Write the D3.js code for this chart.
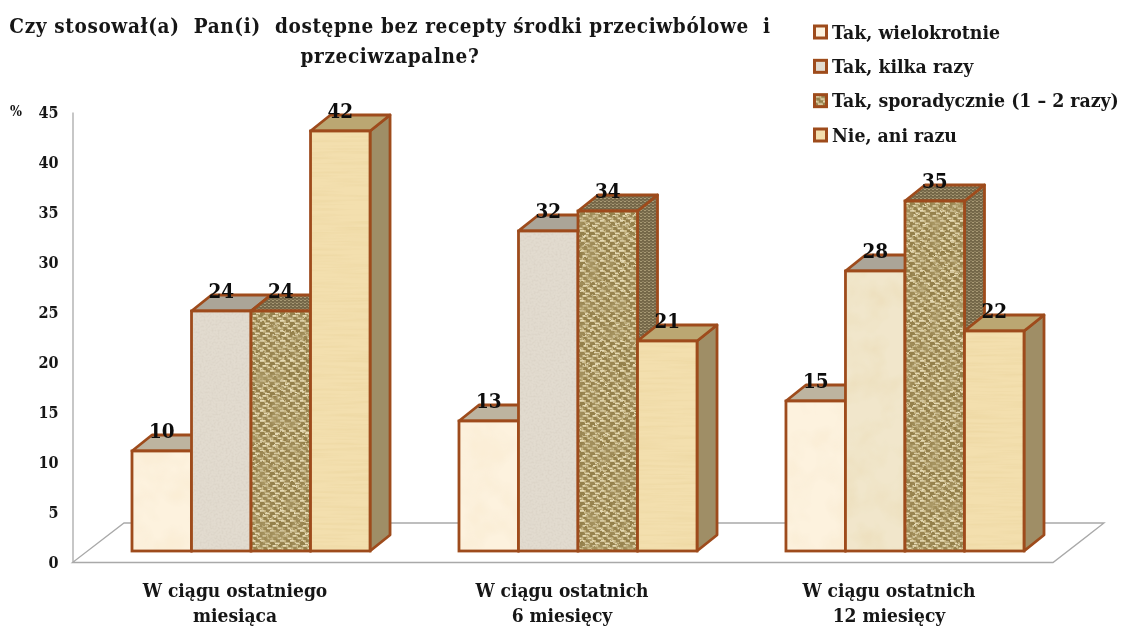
<!DOCTYPE html>
<html><head><meta charset="utf-8">
<script src="https://cdnjs.cloudflare.com/ajax/libs/d3/7.8.5/d3.min.js"></script>
<style>
html,body{margin:0;padding:0;background:#fff;overflow:hidden}
text{font-family:"DejaVu Serif Condensed","DejaVu Serif",serif;font-weight:bold;font-stretch:condensed;fill:#141414}
</style></head><body><svg id="c" width="1126" height="627"></svg>
<script>
const titleLines = ["Czy stosował(a)  Pan(i)  dostępne bez recepty środki przeciwbólowe  i","przeciwzapalne?"];
const categories = [["W ciągu ostatniego","miesiąca"],["W ciągu ostatnich","6 miesięcy"],["W ciągu ostatnich","12 miesięcy"]];
const seriesNames = ["Tak, wielokrotnie","Tak, kilka razy","Tak, sporadycznie (1 – 2 razy)","Nie, ani razu"];
const valuesWielokrotnie = [10,13,15];
const valuesKilkaRazy = [24,32,28];
const valuesSporadycznie = [24,34,35];
const valuesNie = [42,21,22];
const yTicks = [0,5,10,15,20,25,30,35,40,45];
const seriesValues = [valuesWielokrotnie,valuesKilkaRazy,valuesSporadycznie,valuesNie];

const svg = d3.select("#c");
const defs = svg.append("defs");
const stroke = "#9e4c1c";
defs.append("filter").attr("id","soft").attr("x","-2%").attr("y","-2%").attr("width","104%").attr("height","104%")
  .append("feGaussianBlur").attr("stdDeviation",0.5);

function grain(id,freq,seed,color,amount){
  const f=defs.append("filter").attr("id",id).attr("x","0").attr("y","0").attr("width","100%").attr("height","100%");
  f.append("feTurbulence").attr("type","fractalNoise").attr("baseFrequency",freq).attr("numOctaves",3).attr("seed",seed).attr("result","n");
  f.append("feColorMatrix").attr("in","n").attr("type","matrix")
   .attr("values",`0 0 0 0 ${color[0]} 0 0 0 0 ${color[1]} 0 0 0 0 ${color[2]} ${amount} 0 0 0 ${-amount*0.42}`).attr("result","c");
  f.append("feComposite").attr("in","c").attr("in2","SourceGraphic").attr("operator","in").attr("result","t");
  const m=f.append("feMerge");
  m.append("feMergeNode").attr("in","SourceGraphic");
  m.append("feMergeNode").attr("in","t");
}
grain("gCream","0.03",3,[.93,.80,.58],1.1);
grain("gStone","0.5",5,[.66,.60,.52],1.3);
grain("gParch","0.035",8,[.84,.72,.48],1.6);
grain("gStraw","0.015 0.35",2,[.85,.68,.36],1.7);

const fb=defs.append("filter").attr("id","gBurlap").attr("x","0").attr("y","0").attr("width","100%").attr("height","100%");
fb.append("feTurbulence").attr("type","fractalNoise").attr("baseFrequency","0.18").attr("numOctaves",2).attr("seed",11).attr("result","n");
fb.append("feDisplacementMap").attr("in","SourceGraphic").attr("in2","n").attr("scale",2.5).attr("xChannelSelector","R").attr("yChannelSelector","G").attr("result","d");
fb.append("feTurbulence").attr("type","fractalNoise").attr("baseFrequency","0.07").attr("numOctaves",3).attr("seed",4).attr("result","n2");
fb.append("feColorMatrix").attr("in","n2").attr("type","matrix").attr("values","0 0 0 0 .42 0 0 0 0 .33 0 0 0 0 .14 1.8 0 0 0 -.78").attr("result","c");
const fm=fb.append("feMerge"); fm.append("feMergeNode").attr("in","d"); fm.append("feMergeNode").attr("in","c");

function weave(id,dark,light,mid){
  const p=defs.append("pattern").attr("id",id).attr("patternUnits","userSpaceOnUse").attr("width",10).attr("height",10);
  p.append("rect").attr("width",10).attr("height",10).attr("fill",dark);
  [[0,0,4],[5,2.5,4],[2.5,5,4],[7.5,7.5,2.5],[0,7.5,1.5]].forEach(r=>p.append("rect").attr("x",r[0]).attr("y",r[1]).attr("width",r[2]).attr("height",1.8).attr("fill",light));
  [[4,0,2.5],[9,2.5,2.5],[6.5,5,2.5],[1.5,7.5,2.5]].forEach(r=>p.append("rect").attr("x",r[0]).attr("y",r[1]).attr("width",1.8).attr("height",r[2]).attr("fill",mid));
}
weave("burlap","#94804b","#e6dab4","#d2c18f");
const pd=defs.append("pattern").attr("id","burlapDark").attr("patternUnits","userSpaceOnUse").attr("width",4).attr("height",3);
pd.append("rect").attr("width",4).attr("height",3).attr("fill","#75684a");
pd.append("rect").attr("width",2).attr("height",1).attr("fill","#a89a74");
pd.append("rect").attr("x",2).attr("y",2).attr("width",2).attr("height",1).attr("fill","#8f8160");

const faces = [
  {front:"#fdf2de",grain:"gCream",top:"#bdb4a0",side:"#a3946f"},
  {front:"#e2dbcf",grain:"gStone",top:"#aba598",side:"#9b927e"},
  {front:"url(#burlap)",grain:"gBurlap",top:"url(#burlapDark)",side:"url(#burlapDark)"},
  {front:"#f3dfae",grain:"gStraw",top:"#bba772",side:"#9f8e66"}
];
const frontOverride = {"2|1":{front:"#f1e6cb",grain:"gParch"}};

const root = svg.append("g").attr("filter","url(#soft)");

const yAxisScale = d3.scaleLinear().domain([0,45]).range([562,112]);
const barLift = 11, dx = 20, dy = -16;
const x0 = d3.scaleBand().domain(d3.range(categories.length)).range([132,1024]).paddingInner(0.272);
const x1 = d3.scaleBand().domain(d3.range(seriesNames.length)).range([0,x0.bandwidth()]);

const fl = d3.path();
fl.moveTo(72.5,yAxisScale(0)+.5); fl.lineTo(1053,yAxisScale(0)+.5); fl.lineTo(1104,523); fl.lineTo(124,523); fl.closePath();
root.append("path").attr("d",fl.toString()).attr("fill","none").attr("stroke","#a9a9a9").attr("stroke-width",1.3);

const yAxis = d3.axisLeft(yAxisScale).tickValues(yTicks).tickSize(0).tickPadding(14);
const ga = root.append("g").attr("transform","translate(72.5,0)").call(yAxis);
ga.select(".domain").attr("stroke","#a9a9a9").attr("stroke-width",1.3);
ga.selectAll("text").attr("font-size",16)
  .style("font-family",'"DejaVu Serif Condensed","DejaVu Serif",serif').style("font-weight","bold").style("font-stretch","condensed").attr("fill","#222");
root.append("text").attr("x",16).attr("y",116).attr("text-anchor","middle").attr("font-size",14).text("%");

const bars = [];
categories.forEach((c,g)=>seriesNames.forEach((s,i)=>bars.push({g,i,v:seriesValues[i][g]})));
const bg = root.selectAll("g.bar").data(bars).join("g").attr("class","bar");
const lw = 2.8;
bg.each(function(d){
  const sel=d3.select(this), x=x0(d.g)+x1(d.i), w=x1.bandwidth(), yt=yAxisScale(d.v)-barLift, yb=yAxisScale(0)-barLift, f=faces[d.i];
  const o=frontOverride[d.g+"|"+d.i]||f;
  const side=d3.path(); side.moveTo(x+w,yt); side.lineTo(x+w+dx,yt+dy); side.lineTo(x+w+dx,yb+dy); side.lineTo(x+w,yb); side.closePath();
  const top=d3.path(); top.moveTo(x,yt); top.lineTo(x+dx,yt+dy); top.lineTo(x+w+dx,yt+dy); top.lineTo(x+w,yt); top.closePath();
  sel.append("path").attr("d",side.toString()).attr("fill",f.side).attr("stroke",stroke).attr("stroke-width",lw).attr("stroke-linejoin","round");
  sel.append("path").attr("d",top.toString()).attr("fill",f.top).attr("stroke",stroke).attr("stroke-width",lw).attr("stroke-linejoin","round");
  sel.append("rect").attr("x",x).attr("y",yt).attr("width",w).attr("height",yb-yt).attr("fill",o.front).attr("filter",`url(#${o.grain})`);
  sel.append("rect").attr("x",x).attr("y",yt).attr("width",w).attr("height",yb-yt).attr("fill","none").attr("stroke",stroke).attr("stroke-width",lw);
});
root.selectAll("text.val").data(bars).join("text").attr("class","val")
  .attr("x",d=>x0(d.g)+x1(d.i)+x1.bandwidth()/2).attr("y",d=>yAxisScale(d.v)-barLift-13)
  .attr("text-anchor","middle").attr("font-size",20.5).style("fill","#111").text(d=>d.v);

const catCenter = g=>x0(g)+x0.bandwidth()/2-16;
categories.forEach((lines,g)=>lines.forEach((t,k)=>{
  root.append("text").attr("x",catCenter(g)).attr("y",597+k*25).attr("text-anchor","middle").attr("font-size",19).text(t);
}));

titleLines.forEach((t,k)=>{
  root.append("text").attr("x",390).attr("y",[33,63][k]).attr("text-anchor","middle").attr("font-size",20.5)
    .style("white-space","pre").style("letter-spacing","0.65px").text(t);
});

const legY = d3.scalePoint().domain(seriesNames).range([32,135]);
const lg = root.selectAll("g.leg").data(seriesNames).join("g").attr("class","leg").attr("transform",d=>`translate(813,${legY(d)})`);
lg.append("rect").attr("x",1.5).attr("y",-6).attr("width",12).attr("height",12).attr("stroke",stroke).attr("stroke-width",3)
  .attr("fill",(d,i)=>faces[i].front);
lg.append("text").attr("x",19).attr("y",6.5).attr("font-size",19.3).text(d=>d);
</script></body></html>
